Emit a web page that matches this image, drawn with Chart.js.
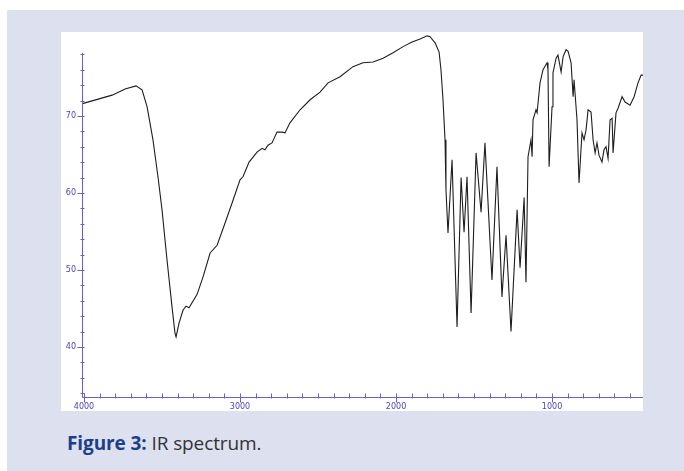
<!DOCTYPE html>
<html>
<head>
<meta charset="utf-8">
<script src="https://cdn.jsdelivr.net/npm/chart.js@4.4.1/dist/chart.umd.min.js"></script>
<style>
    html, body { margin: 0; padding: 0; background: #ffffff; }
    #frame {
        position: absolute; left: 7px; top: 10px; width: 677px; height: 461px;
        background: #dde1ef;
    }
    #panel {
        position: absolute; left: 54px; top: 22px; width: 582px; height: 379px;
        background: #ffffff;
    }
    #caption {
        position: absolute; left: 60px; top: 420px;
        font-family: "Open Sans", "Noto Sans", sans-serif; font-size: 19px;
        letter-spacing: -0.1px;
        color: #333333; white-space: nowrap;
    }
    #caption b { color: #1c3f8c; font-weight: 700; }
</style>
</head>
<body>
<div id="frame">
    <div id="panel"><canvas id="irChart" width="582" height="379"></canvas></div>
    <div id="caption"><b>Figure 3:</b> IR spectrum.</div>
</div>
<script>
// IR spectrum, wavenumber (cm-1) vs transmittance (%)
const wavenumbers = [
    4010, 3820, 3737, 3667, 3628, 3596, 3558, 3526, 3500, 3468,
    3436, 3417, 3410, 3391, 3365, 3346, 3327, 3276, 3237, 3192,
    3147, 3096, 3051, 3000, 2981, 2942, 2891, 2859, 2840, 2821,
    2795, 2763, 2731, 2712, 2680, 2615, 2551, 2487, 2436, 2359,
    2276, 2212, 2147, 2083, 2019, 1955, 1897, 1846, 1801, 1782,
    1750, 1724, 1712, 1699, 1686, 1680, 1667, 1641, 1609, 1583,
    1564, 1545, 1519, 1487, 1455, 1430, 1385, 1353, 1321, 1295,
    1263, 1224, 1205, 1179, 1167, 1154, 1135, 1128, 1122, 1103,
    1096, 1077, 1058, 1032, 1026, 1019, 1000, 994, 974, 962,
    942, 929, 910, 897, 878, 865, 859, 840, 827, 808,
    795, 782, 769, 750, 737, 724, 712, 699, 680, 667,
    654, 641, 628, 615, 609, 590, 577, 551, 532, 500,
    474, 449, 429, 417
];
const transmittance = [
    71.6, 72.7, 73.5, 73.9, 73.4, 71.2, 66.9, 62.1, 57.8, 51.3,
    45.2, 41.8, 41.3, 43.1, 44.8, 45.3, 45.1, 46.8, 49.1, 52.2,
    53.2, 56.1, 58.7, 61.7, 62.1, 64.0, 65.3, 65.8, 65.6, 66.2,
    66.5, 67.9, 67.9, 67.8, 69.1, 70.8, 72.1, 73.1, 74.3, 75.1,
    76.4, 76.9, 77.0, 77.5, 78.2, 79.0, 79.6, 80.0, 80.4, 80.3,
    79.5, 78.3, 76.0, 72.1, 66.9, 60.4, 54.8, 64.3, 42.6, 62.0,
    54.9, 62.1, 44.4, 65.2, 57.5, 66.5, 48.7, 63.4, 46.5, 54.5,
    42.0, 57.8, 50.3, 59.4, 48.4, 64.7, 66.9, 64.7, 69.5, 70.8,
    70.4, 74.3, 76.0, 76.9, 76.0, 63.4, 71.2, 75.6, 77.5, 77.9,
    75.7, 77.7, 78.6, 78.4, 76.9, 72.5, 74.7, 69.5, 61.3, 67.8,
    66.9, 68.2, 70.8, 70.5, 66.9, 65.2, 66.5, 64.9, 64.0, 65.6,
    66.0, 64.5, 69.5, 69.7, 65.2, 70.4, 71.0, 72.5, 71.8, 71.4,
    72.5, 74.3, 75.3, 75.3
];

// tick values (minor and labelled)
const xTicks = [];
for (let v = 500; v <= 4000; v += 100) xTicks.push(v);
const xLabels = [1000, 2000, 3000, 4000];
const yTicks = [];
for (let v = 34; v <= 78; v += 2) yTicks.push(v);
const yLabels = [40, 50, 60, 70];
const yAxisTop = 78.2;

const axisColor = '#6b5fcf';
const labelColor = '#4a44b8';

// draws the axis lines and tick marks the way the original plot does
const axisMarks = {
    id: 'axisMarks',
    afterDraw(chart) {
        const ctx = chart.ctx;
        const xs = chart.scales.x;
        const ys = chart.scales.y;
        const x0 = Math.round(xs.left) + 0.5;
        const y0 = Math.round(ys.bottom) + 0.5;
        ctx.save();
        ctx.strokeStyle = axisColor;
        ctx.lineWidth = 1;
        ctx.beginPath();
        ctx.moveTo(x0, ys.getPixelForValue(yAxisTop));
        ctx.lineTo(x0, y0);
        ctx.lineTo(xs.right, y0);
        yTicks.forEach(v => {
            const py = Math.round(ys.getPixelForValue(v)) + 0.5;
            const major = yLabels.includes(v);
            ctx.moveTo(x0 - (major ? 5 : 2), py);
            ctx.lineTo(x0 + 2, py);
        });
        xTicks.forEach(v => {
            const px = Math.round(xs.getPixelForValue(v)) + 0.5;
            const major = xLabels.includes(v);
            ctx.moveTo(px, y0 - 4);
            ctx.lineTo(px, y0 + (major ? 5 : 1));
        });
        ctx.stroke();
        ctx.restore();
    }
};

new Chart(document.getElementById('irChart'), {
    type: 'line',
    data: {
        datasets: [{
            data: wavenumbers.map((w, i) => ({ x: w, y: transmittance[i] })),
            borderColor: '#1e1e1e',
            borderWidth: 1.1,
            pointRadius: 0,
            tension: 0,
            fill: false
        }]
    },
    options: {
        responsive: false,
        animation: false,
        layout: { padding: 0 },
        plugins: {
            legend: { display: false },
            tooltip: { enabled: false }
        },
        scales: {
            x: {
                type: 'linear',
                reverse: true,
                min: 417,
                max: 4013,
                grid: { display: false, drawTicks: false },
                border: { display: false },
                afterBuildTicks: scale => { scale.ticks = xTicks.map(v => ({ value: v })); },
                afterFit: scale => {
                    scale.height = 14;
                    scale.paddingLeft = 0;
                    scale.paddingRight = 0;
                },
                ticks: {
                    autoSkip: false,
                    maxRotation: 0,
                    padding: 5,
                    color: labelColor,
                    font: { family: 'DejaVu Sans', size: 8 },
                    callback: v => xLabels.includes(v) ? String(v) : ''
                }
            },
            y: {
                type: 'linear',
                min: 33.5,
                max: 80.9,
                grid: { display: false, drawTicks: false },
                border: { display: false },
                afterBuildTicks: scale => { scale.ticks = yTicks.map(v => ({ value: v })); },
                afterFit: scale => {
                    scale.width = 21;
                    scale.paddingTop = 0;
                    scale.paddingBottom = 0;
                },
                ticks: {
                    autoSkip: false,
                    padding: 6,
                    color: labelColor,
                    font: { family: 'DejaVu Sans', size: 8 },
                    callback: v => yLabels.includes(v) ? String(v) : ''
                }
            }
        }
    },
    plugins: [axisMarks]
});
</script>
</body>
</html>
